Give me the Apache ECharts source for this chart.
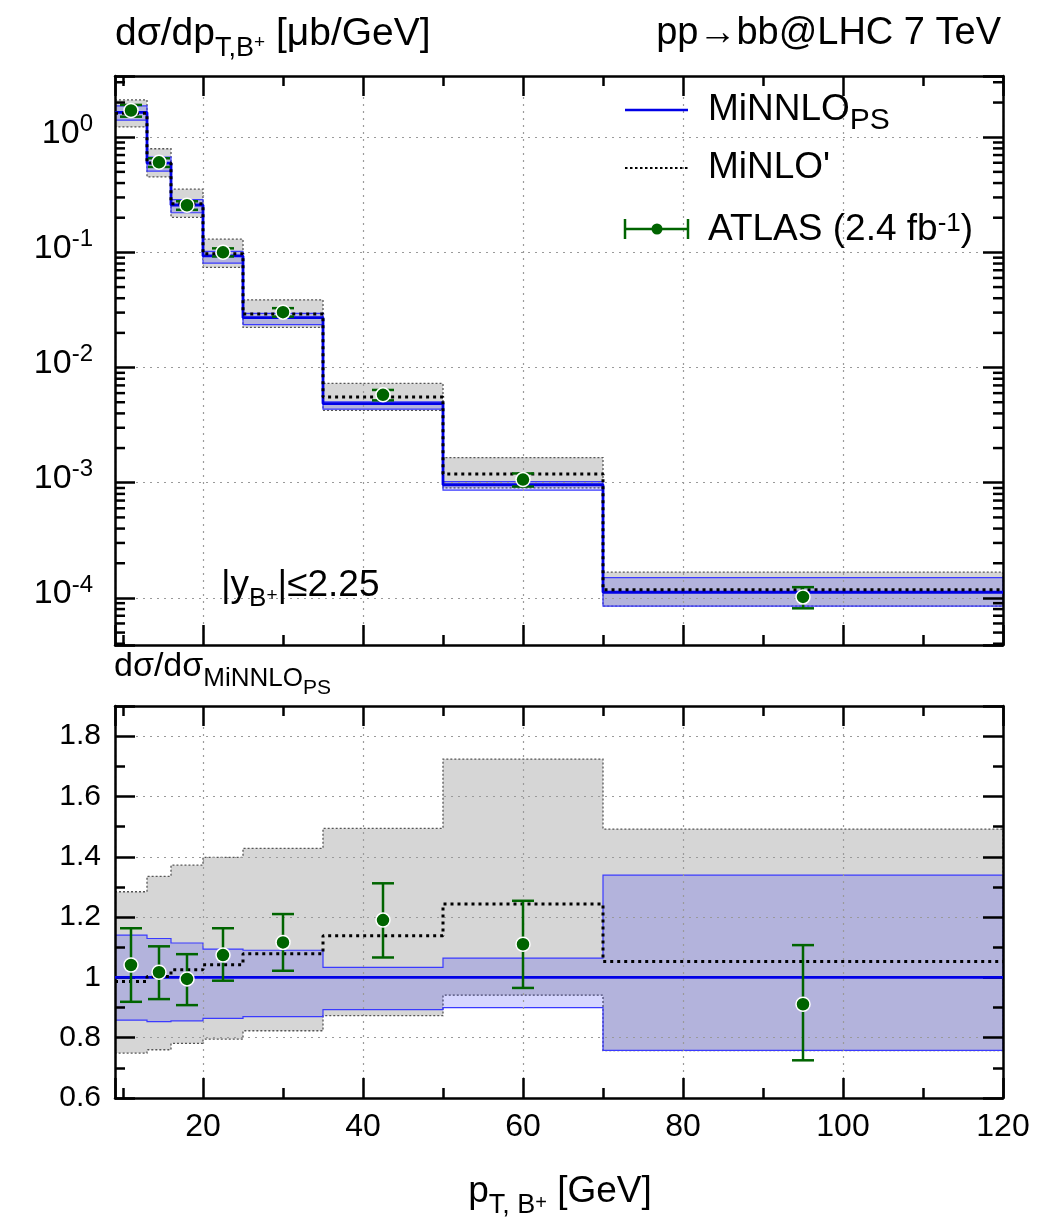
<!DOCTYPE html>
<html><head><meta charset="utf-8">
<script src="https://cdn.jsdelivr.net/npm/echarts@6/dist/echarts.min.js"></script>
<style>html,body{margin:0;padding:0;background:#fff}#c{width:1041px;height:1222px}</style>
</head><body><div id="c"></div>
<script>
// ---------------- data ----------------
const binEdges = [9, 13, 16, 20, 25, 35, 50, 70, 120];
const binCenters = [11, 14.5, 18, 22.5, 30, 42.5, 60, 95];
// MiNNLO_PS central value, dsigma/dpT [μb/GeV]
const minnloCentral = [1.64, 0.595, 0.258, 0.0932, 0.0271, 0.00487, 0.00096, 0.000112];
// MiNNLO_PS scale band, ratio to MiNNLO_PS central
const minnloBandLo = [0.858, 0.853, 0.856, 0.864, 0.870, 0.893, 0.900, 0.758];
const minnloBandHi = [1.140, 1.129, 1.114, 1.094, 1.090, 1.033, 1.064, 1.339];
// MiNLO' central and band, ratio to MiNNLO_PS central
const minloRatio = [0.986, 1.003, 1.025, 1.042, 1.078, 1.138, 1.243, 1.053];
const minloBandLo = [0.749, 0.760, 0.781, 0.795, 0.823, 0.873, 0.941, 0.757];
const minloBandHi = [1.284, 1.335, 1.372, 1.398, 1.428, 1.494, 1.724, 1.492];
// ATLAS data, ratio to MiNNLO_PS central
const atlasRatio = [1.041, 1.017, 0.995, 1.074, 1.116, 1.190, 1.110, 0.911];
const atlasLoRatio = [0.919, 0.928, 0.908, 0.989, 1.022, 1.066, 0.965, 0.725];
const atlasHiRatio = [1.163, 1.103, 1.077, 1.163, 1.210, 1.312, 1.254, 1.107];
const yLogMin = 3.9e-5, yLogMax = 3.4;
const xMin = 9, xMax = 120;
const ratioMin = 0.6, ratioMax = 1.9;

// ---------------- helpers ----------------
const FONT = "'Liberation Sans', Arial, Helvetica, sans-serif";
const GREEN = '#006400', BLUE = '#0000e6';
const toAbs = (rel) => minnloCentral.map((c, i) => c * rel[i]);
const ones = minnloCentral.map(() => 1);

function stepData(vals) {
  const d = vals.map((v, i) => [binEdges[i], v]);
  d.push([binEdges[vals.length], vals[vals.length - 1]]);
  return d;
}
function bandSeries(xi, yi, lo, hi, fill, stroke, dash, lw, z) {
  return {
    type: 'custom', xAxisIndex: xi, yAxisIndex: yi, z: z, silent: true, clip: true,
    data: [[binEdges[0], hi[0]]],
    renderItem: function (params, api) {
      const pts = [];
      for (let i = 0; i < lo.length; i++) {
        pts.push(api.coord([binEdges[i], hi[i]]));
        pts.push(api.coord([binEdges[i + 1], hi[i]]));
      }
      for (let i = lo.length - 1; i >= 0; i--) {
        pts.push(api.coord([binEdges[i + 1], lo[i]]));
        pts.push(api.coord([binEdges[i], lo[i]]));
      }
      return { type: 'polygon', shape: { points: pts },
        style: { fill: fill, stroke: stroke, lineWidth: lw, lineDash: dash } };
    }
  };
}
function lineSeries(xi, yi, vals, color, width, type, z) {
  return { type: 'line', xAxisIndex: xi, yAxisIndex: yi, z: z, step: 'end', symbol: 'none', silent: true,
    data: stepData(vals), lineStyle: { color: color, width: width, type: type, cap: 'butt' } };
}
function errSeries(xi, yi, lo, hi, z) {
  return { type: 'custom', xAxisIndex: xi, yAxisIndex: yi, z: z, silent: true, clip: false,
    data: binCenters.map((x, i) => [x, lo[i], hi[i]]),
    encode: { x: 0, y: [1, 2] },
    renderItem: function (params, api) {
      const x = api.value(0);
      const a = api.coord([x, api.value(1)]), b = api.coord([x, api.value(2)]);
      const w = 11;
      const st = { stroke: GREEN, lineWidth: 2.5, fill: null };
      return { type: 'group', children: [
        { type: 'line', shape: { x1: a[0], y1: a[1], x2: b[0], y2: b[1] }, style: st },
        { type: 'line', shape: { x1: a[0] - w, y1: a[1], x2: a[0] + w, y2: a[1] }, style: st },
        { type: 'line', shape: { x1: b[0] - w, y1: b[1], x2: b[0] + w, y2: b[1] }, style: st }
      ] };
    }
  };
}
function pointSeries(xi, yi, vals, z) {
  return { type: 'scatter', xAxisIndex: xi, yAxisIndex: yi, z: z, silent: true,
    symbol: 'circle', symbolSize: 14,
    itemStyle: { color: GREEN, borderColor: '#ffffff', borderWidth: 1.5, opacity: 1 },
    data: binCenters.map((x, i) => [x, vals[i]]) };
}
// log minor ticks (2..9 x 10^k) on both vertical edges of upper panel
const logMinorVals = [];
for (let k = -5; k <= 0; k++) for (let m = 2; m <= 9; m++) {
  const v = m * Math.pow(10, k);
  if (v > yLogMin && v < yLogMax) logMinorVals.push(v);
}
const logMinorSeries = {
  type: 'custom', xAxisIndex: 0, yAxisIndex: 0, z: 30, silent: true, clip: false,
  data: logMinorVals.map(v => [xMin, v]),
  renderItem: function (params, api) {
    const v = api.value(1);
    const p = api.coord([xMin, v]), q = api.coord([xMax, v]);
    const st = { stroke: '#000', lineWidth: 2.5 };
    return { type: 'group', children: [
      { type: 'line', shape: { x1: p[0], y1: p[1], x2: p[0] + 10, y2: p[1] }, style: st },
      { type: 'line', shape: { x1: q[0] - 10, y1: q[1], x2: q[0], y2: q[1] }, style: st }
    ] };
  }
};

const frameLine = { show: true, onZero: false, lineStyle: { color: '#000', width: 2.5 } };
const majorTick = { show: true, inside: true, length: 20, lineStyle: { color: '#000', width: 2.5 } };
const minorTickCfg = { show: true, splitNumber: 2, length: 10, lineStyle: { color: '#000', width: 2.5 } };
const gridDots = { show: true, lineStyle: { color: '#9a9a9a', width: 1.2, type: [2, 5] } };

function xAxisCfg(gi, pos, labels) {
  return { type: 'value', gridIndex: gi, position: pos, min: xMin, max: xMax, splitNumber: 5, z: 10,
    axisLine: frameLine, axisTick: majorTick, minorTick: minorTickCfg,
    axisLabel: { show: labels, margin: 13, fontSize: 32, fontFamily: FONT, color: '#000',
      formatter: v => (Math.abs(v % 20) < 1e-9 ? String(v) : '') },
    splitLine: pos === 'bottom' ? gridDots : { show: false } };
}
function yLogCfg(pos) {
  return { type: 'log', logBase: 10, gridIndex: 0, position: pos, min: yLogMin, max: yLogMax, z: 10,
    axisLine: frameLine, axisTick: majorTick, minorTick: { show: false },
    axisLabel: { show: pos === 'left', margin: 22, fontFamily: FONT, color: '#000',
      formatter: function (v) {
        const e = Math.log10(v), r = Math.round(e);
        if (Math.abs(e - r) > 1e-6) return '';
        return '{b|10}{s|' + r + '}';
      },
      rich: { b: { fontSize: 34, fontFamily: FONT, color: '#000', padding: [0, 0, 8, 0] },
              s: { fontSize: 24, fontFamily: FONT, color: '#000', padding: [0, 0, 26, 0] } } },
    splitLine: pos === 'left' ? gridDots : { show: false } };
}
function yRatioCfg(pos) {
  return { type: 'value', gridIndex: 1, position: pos, min: ratioMin, max: ratioMax, splitNumber: 7, z: 10,
    axisLine: frameLine, axisTick: majorTick, minorTick: minorTickCfg,
    axisLabel: { show: pos === 'left', margin: 14, fontSize: 30, fontFamily: FONT, color: '#000',
      formatter: v => (Math.abs(v * 5 - Math.round(v * 5)) < 1e-6 ? String(+v.toFixed(1)) : '') },
    splitLine: pos === 'left' ? gridDots : { show: false } };
}

function rs(size, pad) { // pad>0 lowers (subscript), pad<0 raises (superscript)
  return { fontSize: size, fontFamily: FONT, fill: '#000', color: '#000',
    padding: pad >= 0 ? [pad, 0, 0, 0] : [0, 0, -pad, 0] };
}
function txt(x, y, text, rich, align) {
  return { type: 'text', x: x, y: y, z: 100, silent: true,
    style: { text: text, rich: rich, align: align || 'left', verticalAlign: 'middle',
      fontFamily: FONT, fontSize: 34, fill: '#000' } };
}

const graphics = [
  txt(115, 34, '{a|dσ/dp}{s|T,B}{u|+}{a| [μb/GeV]}', { a: rs(39, 0), s: rs(27, 30), u: rs(19, 18) }),
  txt(1001, 34, '{a|pp→bb@LHC 7 TeV}', { a: rs(38, 0) }, 'right'),
  txt(114, 667, '{a|dσ/dσ}{s|MiNNLO}{u|PS}', { a: rs(34, 0), s: rs(26, 24), u: rs(21, 42) }),
  txt(221, 586, '{a||y}{s|B}{u|+}{a||≤2.25}', { a: rs(37, 0), s: rs(26, 26), u: rs(19, 20) }),
  txt(708, 110, '{a|MiNNLO}{s|PS}', { a: rs(37, 0), s: rs(30, 22) }),
  txt(708, 168, "{a|MiNLO'}", { a: rs(37, 0) }),
  txt(708, 230, '{a|ATLAS (2.4 fb}{u|-1}{a|)}', { a: rs(37, 0), u: rs(26, -12) }),
  txt(560, 1192, '{a|p}{s|T, B}{u|+}{a| [GeV]}', { a: rs(37, 0), s: rs(27, 28), u: rs(20, 22) }, 'center'),
  // legend keys
  { type: 'line', z: 100, shape: { x1: 625, y1: 110, x2: 688, y2: 110 }, style: { stroke: BLUE, lineWidth: 2.5 } },
  { type: 'line', z: 100, shape: { x1: 625, y1: 168, x2: 688, y2: 168 }, style: { stroke: '#000', lineWidth: 2.2, lineDash: [2.5, 2.5] } },
  { type: 'line', z: 100, shape: { x1: 625, y1: 229, x2: 688, y2: 229 }, style: { stroke: GREEN, lineWidth: 2.5 } },
  { type: 'line', z: 100, shape: { x1: 625, y1: 219, x2: 625, y2: 239 }, style: { stroke: GREEN, lineWidth: 2.5 } },
  { type: 'line', z: 100, shape: { x1: 688, y1: 219, x2: 688, y2: 239 }, style: { stroke: GREEN, lineWidth: 2.5 } },
  { type: 'circle', z: 101, shape: { cx: 657, cy: 229, r: 5.5 }, style: { fill: GREEN } }
];

const option = {
  animation: false,
  backgroundColor: '#ffffff',
  grid: [
    { left: 115, top: 76, width: 888, height: 569, show: false },
    { left: 115, top: 706, width: 888, height: 392, show: false }
  ],
  xAxis: [xAxisCfg(0, 'bottom', false), xAxisCfg(0, 'top', false), xAxisCfg(1, 'bottom', true), xAxisCfg(1, 'top', false)],
  yAxis: [yLogCfg('left'), yLogCfg('right'), yRatioCfg('left'), yRatioCfg('right')],
  series: [
    // upper panel
    bandSeries(0, 0, toAbs(minloBandLo), toAbs(minloBandHi), '#d6d6d6', '#555555', [2, 2], 1.3, 1),
    bandSeries(0, 0, toAbs(minnloBandLo), toAbs(minnloBandHi), 'rgba(0,0,255,0.16)', '#3a3aff', null, 1.2, 2),
    lineSeries(0, 0, minnloCentral, BLUE, 2.8, 'solid', 20),
    lineSeries(0, 0, toAbs(minloRatio), '#000', 3, [3, 4], 21),
    errSeries(0, 0, toAbs(atlasLoRatio), toAbs(atlasHiRatio), 22),
    pointSeries(0, 0, toAbs(atlasRatio), 23),
    logMinorSeries,
    // ratio panel
    bandSeries(2, 2, minloBandLo, minloBandHi, '#d6d6d6', '#555555', [2, 2], 1.3, 1),
    bandSeries(2, 2, minnloBandLo, minnloBandHi, 'rgba(0,0,255,0.16)', '#3a3aff', null, 1.2, 2),
    lineSeries(2, 2, ones, BLUE, 2.8, 'solid', 20),
    lineSeries(2, 2, minloRatio, '#000', 3, [3, 4], 21),
    errSeries(2, 2, atlasLoRatio, atlasHiRatio, 22),
    pointSeries(2, 2, atlasRatio, 23)
  ],
  graphic: graphics
};
const chart = echarts.init(document.getElementById('c'), null, { renderer: 'canvas' });
chart.setOption(option);
</script>
</body></html>
